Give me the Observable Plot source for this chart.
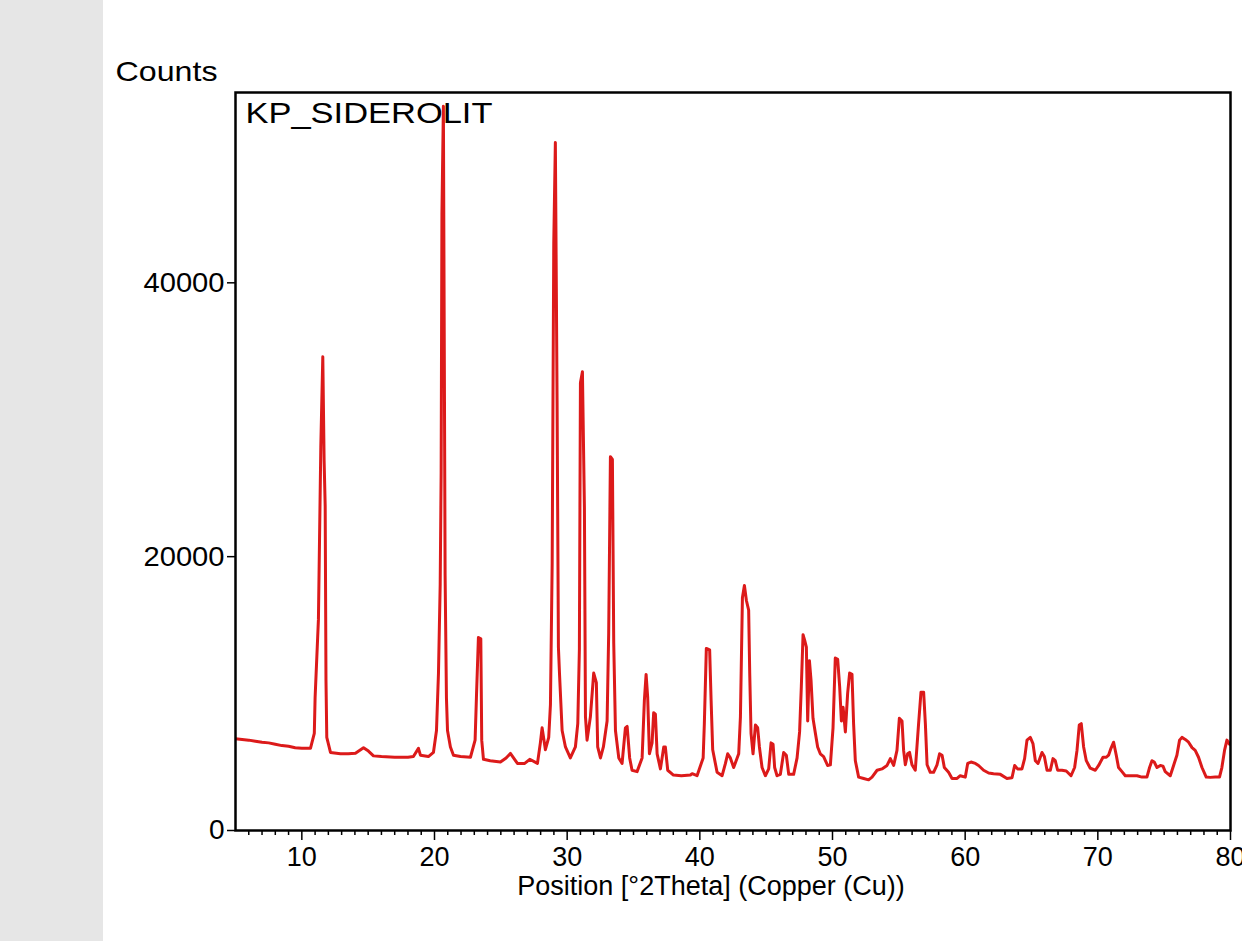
<!DOCTYPE html>
<html>
<head>
<meta charset="utf-8">
<script src="https://cdn.jsdelivr.net/npm/d3@7"></script>
<script src="https://cdn.jsdelivr.net/npm/@observablehq/plot@0.6"></script>
<style>
  html, body { margin: 0; padding: 0; background: #ffffff; }
  #wrap { position: relative; width: 1242px; height: 941px; overflow: hidden; }
  #band { position: absolute; left: 0; top: 0; width: 103px; height: 941px; background: #e6e6e6; }
  #chart { position: absolute; left: 0; top: 0; }
</style>
</head>
<body>
<div id="wrap"><div id="band"></div><div id="chart"></div></div>
<script>
// ---- data ----
const sampleName = "KP_SIDEROLIT";
const yTitle = "Counts";
const xTitle = "Position [°2Theta] (Copper (Cu))";
const yTicks = [0, 20000, 40000];
const xTicks = [10, 20, 30, 40, 50, 60, 70, 80];

const twoTheta = [
  5, 5.5, 6, 6.5, 7, 7.5, 8, 8.5, 9, 9.5, 10, 10.65, 10.94, 11.0, 11.25, 11.43, 11.58, 11.68, 11.76, 11.82,
  11.88, 12.16, 12.91, 13.5, 14.04, 14.65, 15.02, 15.4, 16.0, 17.0, 18.0, 18.41, 18.79, 18.94, 19.54, 19.92,
  20.15, 20.3, 20.43, 20.5, 20.56, 20.67, 20.8, 20.9, 20.98, 21.2, 21.43, 21.96, 22.71, 23.06, 23.16, 23.31,
  23.49, 23.56, 23.69, 24.2, 24.97, 25.4, 25.72, 26.25, 26.8, 27.18, 27.76, 27.98, 28.11, 28.36, 28.61, 28.74,
  28.87, 28.99, 29.11, 29.24, 29.34, 29.42, 29.62, 29.87, 30.24, 30.62, 30.8, 30.92, 31.0, 31.15, 31.3, 31.38,
  31.5, 31.75, 32.0, 32.2, 32.3, 32.51, 32.73, 33.01, 33.13, 33.26, 33.41, 33.51, 33.64, 33.89, 34.14, 34.39,
  34.52, 34.71, 34.89, 35.27, 35.65, 35.82, 35.95, 36.07, 36.2, 36.4, 36.52, 36.65, 36.78, 37.03, 37.28, 37.4,
  37.58, 38.01, 38.61, 39.29, 39.42, 39.79, 40.25, 40.34, 40.49, 40.74, 40.85, 40.97, 41.3, 41.68, 41.93, 42.1,
  42.3, 42.55, 42.93, 43.06, 43.21, 43.36, 43.51, 43.68, 43.76, 43.86, 44.01, 44.19, 44.36, 44.49, 44.69, 44.94,
  45.19, 45.37, 45.52, 45.64, 45.82, 46.07, 46.32, 46.52, 46.7, 47.07, 47.33, 47.52, 47.65, 47.78, 47.9, 48.03,
  48.13, 48.26, 48.38, 48.53, 48.71, 48.88, 49.08, 49.33, 49.63, 49.84, 50.04, 50.21, 50.39, 50.54, 50.67, 50.8,
  50.97, 51.14, 51.29, 51.47, 51.59, 51.72, 51.97, 52.35, 52.72, 52.98, 53.36, 53.73, 54.11, 54.36, 54.61, 54.86,
  55.04, 55.24, 55.36, 55.49, 55.66, 55.81, 55.99, 56.24, 56.49, 56.67, 56.87, 57.0, 57.13, 57.37, 57.62, 57.88,
  58.07, 58.26, 58.43, 58.75, 59.01, 59.39, 59.63, 60.01, 60.19, 60.44, 60.77, 61.01, 61.39, 61.77, 62.14, 62.65,
  63.15, 63.53, 63.73, 63.95, 64.28, 64.48, 64.66, 64.91, 65.11, 65.29, 65.49, 65.79, 65.97, 66.17, 66.42, 66.62,
  66.79, 66.97, 67.3, 67.62, 67.98, 68.25, 68.43, 68.6, 68.75, 68.93, 69.13, 69.43, 69.81, 70.06, 70.39, 70.64,
  70.81, 70.99, 71.19, 71.39, 71.56, 71.82, 72.07, 72.45, 72.95, 73.33, 73.7, 73.9, 74.08, 74.25, 74.46, 74.71,
  74.91, 75.08, 75.46, 75.71, 75.96, 76.16, 76.34, 76.59, 76.84, 77.1, 77.34, 77.59, 77.85, 78.17, 78.47, 78.85,
  79.17, 79.35, 79.55, 79.73, 79.92, 80
];

const counts = [
  6700, 6650, 6600, 6520, 6450, 6400, 6300, 6200, 6150, 6050, 6000, 6000, 7100, 9700, 15400, 28000, 34600, 27000, 23700, 11000,
  6800, 5700, 5600, 5600, 5650, 6050, 5800, 5450, 5400, 5350, 5350, 5400, 6000, 5500, 5400, 5700,
  7300, 11500, 18000, 26000, 45000, 52900, 18600, 9700, 7300, 6100, 5500, 5400, 5350, 6600, 9700, 14100,
  14000, 6600, 5200, 5100, 5000, 5300, 5630, 4900, 4900, 5200, 4900, 6400, 7500, 5900, 6800, 9200,
  19500, 42900, 50250, 31400, 13400, 11500, 7300, 6100, 5300, 6100, 7800, 13200, 32700, 33500, 23600, 8300,
  6600, 8300, 11500, 10800, 6100, 5300, 6100, 8000, 14400, 27300, 27100, 13700, 7300, 5300, 4900, 7500,
  7600, 5300, 4400, 4300, 5300, 9500, 11400, 9700, 5600, 6400, 8600, 8500, 5600, 4500, 6100, 6100,
  4400, 4050, 4000, 4050, 4150, 4000, 5300, 7800, 13300, 13200, 9500, 5900, 4250, 4000, 4900, 5600,
  5300, 4600, 5600, 8300, 17000, 17900, 16800, 16100, 11500, 7100, 5600, 7700, 7500, 6100, 4600, 4000,
  4500, 6400, 6300, 4600, 4000, 4100, 5700, 5500, 4100, 4100, 5300, 7200, 10500, 14300, 13900, 13400,
  8000, 12400, 11000, 8200, 7100, 6100, 5600, 5400, 4750, 4800, 7500, 12600, 12500, 10500, 8000, 9000,
  7200, 10000, 11500, 11400, 7800, 5100, 3900, 3800, 3700, 3900, 4400, 4500, 4750, 5250, 4750, 5850,
  8200, 8000, 5850, 4800, 5600, 5700, 4800, 4400, 7800, 10100, 10100, 7800, 4800, 4250, 4250, 4800,
  5600, 5500, 4600, 4250, 3800, 3800, 4000, 3900, 4900, 5000, 4900, 4750, 4400, 4200, 4150, 4100,
  3800, 3850, 4750, 4500, 4500, 5250, 6600, 6800, 6350, 5100, 4900, 5700, 5400, 4400, 4400, 5250,
  5100, 4400, 4400, 4350, 4000, 4600, 5850, 7700, 7800, 6100, 5100, 4550, 4400, 4750, 5350, 5350,
  5500, 6000, 6450, 5500, 4600, 4300, 4000, 4000, 4000, 3900, 3900, 4600, 5100, 5000, 4600, 4750,
  4700, 4300, 4000, 4750, 5500, 6600, 6800, 6650, 6450, 6050, 5850, 5350, 4600, 3900, 3880, 3900,
  3900, 4600, 5850, 6600, 6300, 6400
];

const pattern = twoTheta.map((t, i) => ({t, c: counts[i]}));
const minorTicks = d3.range(6, 81).filter(d => d % 10 !== 0);

const font = "'Liberation Sans', Arial, Helvetica, sans-serif";

const chart = Plot.plot({
  width: 1242,
  height: 941,
  marginLeft: 235,
  marginRight: 12,
  marginTop: 92,
  marginBottom: 111,
  style: {fontFamily: font, background: "transparent", color: "#000"},
  x: {domain: [5, 80], label: null},
  y: {domain: [0, 53900], label: null},
  marks: [
    Plot.text([sampleName], {frameAnchor: "top-left", textAnchor: "start", lineAnchor: "middle", dx: 10, dy: 21, fontSize: 29, fill: "#000"}),
    Plot.line(pattern, {x: "t", y: "c", stroke: "#dc1a1a", strokeWidth: 3, clip: true}),
    Plot.axisY({ticks: yTicks, tickSize: 8, tickPadding: 3, tickFormat: d => String(d), fontSize: 28, label: null, strokeWidth: 1.5}),
    Plot.axisX({ticks: minorTicks, tickSize: 5, tickFormat: () => "", label: null, strokeWidth: 1.5}),
    Plot.axisX({ticks: xTicks, tickSize: 10, tickPadding: 6, tickFormat: d => String(d), fontSize: 27, label: null, strokeWidth: 1.5}),
    Plot.frame({stroke: "#000", strokeWidth: 2.5}),
    Plot.text([yTitle], {frameAnchor: "top-left", textAnchor: "start", lineAnchor: "middle", dx: -120, dy: -20, fontSize: 28, fill: "#000"}),
    Plot.text([xTitle], {frameAnchor: "bottom", textAnchor: "middle", lineAnchor: "middle", dx: -22, dy: 56, fontSize: 27, fill: "#000"})
  ]
});

// the reference's lettering is horizontally stretched: widen a few texts' glyphs
d3.select(chart).selectAll("text").each(function() {
  const s = this.textContent;
  let len = null;
  if (s === sampleName) len = 247;
  else if (s === yTitle) len = 102;
  else if (/^\d{5}$/.test(s)) len = 81;
  if (len) {
    this.setAttribute("textLength", len);
    this.setAttribute("lengthAdjust", "spacingAndGlyphs");
  }
});

document.getElementById("chart").appendChild(chart);
</script>
</body>
</html>
